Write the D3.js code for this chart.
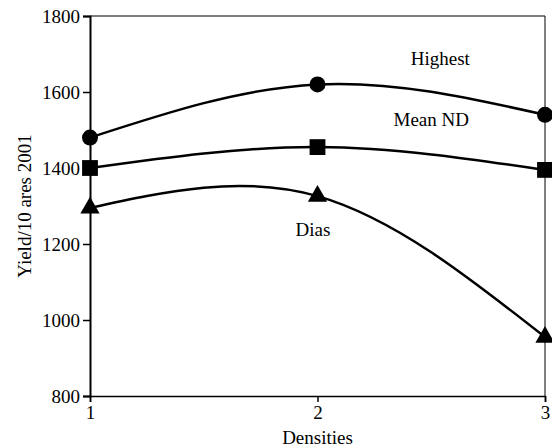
<!DOCTYPE html>
<html>
<head>
<meta charset="utf-8">
<script src="https://cdn.jsdelivr.net/npm/d3@7"></script>
<style>
  body { margin: 0; background: #fff; }
</style>
</head>
<body>
<div id="chart"></div>
<script>
const densities = [1, 2, 3];
const highest = [1480, 1620, 1540];
const meanND = [1400, 1455, 1395];
const dias = [1295, 1326, 955];
const yTicks = [800, 1000, 1200, 1400, 1600, 1800];

const series = [
  { name: "Highest", values: highest, shape: d3.symbolCircle, size: 200, lx: 2.54, ly: 1670 },
  { name: "Mean ND", values: meanND, shape: d3.symbolSquare, size: 250, lx: 2.5, ly: 1510 },
  { name: "Dias", values: dias, shape: d3.symbolTriangle, size: 160, lx: 1.98, ly: 1222 }
];

const width = 552, height = 448;
const margin = { top: 16, right: 7, bottom: 52, left: 90 };
const font = "'Liberation Serif', 'Times New Roman', serif";
const fs = 19;

const svg = d3.select("#chart").append("svg")
  .attr("width", width)
  .attr("height", height);

const x = d3.scaleLinear().domain([1, 3]).range([margin.left, width - margin.right]);
const y = d3.scaleLinear().domain([800, 1800]).range([height - margin.bottom, margin.top]);

// frame top + right (thin)
svg.append("path")
  .attr("d", `M${x(1)},${y(1800)}H${x(3)}V${y(800)}`)
  .attr("fill", "none")
  .attr("stroke", "#000")
  .attr("stroke-width", 1);

// y axis
const yAxis = svg.append("g")
  .attr("transform", `translate(${x(1)},0)`)
  .call(d3.axisLeft(y).tickValues(yTicks).tickSize(7).tickPadding(3).tickFormat(d3.format("d")));
yAxis.attr("font-family", font).attr("font-size", fs);
yAxis.select(".domain").attr("stroke-width", 2);
yAxis.selectAll(".tick line").attr("stroke-width", 1.5);

// x axis
const xAxis = svg.append("g")
  .attr("transform", `translate(0,${y(800)})`)
  .call(d3.axisBottom(x).tickValues(densities).tickSize(6).tickPadding(4).tickFormat(d3.format("d")));
xAxis.attr("font-family", font).attr("font-size", fs);
xAxis.select(".domain").attr("stroke-width", 1.5);
xAxis.selectAll(".tick line").attr("stroke-width", 1.5);

// axis titles
svg.append("text")
  .attr("transform", `translate(31,${(y(800) + y(1800)) / 2}) rotate(-90)`)
  .attr("text-anchor", "middle")
  .attr("font-family", font)
  .attr("font-size", fs)
  .text("Yield/10 ares 2001");

svg.append("text")
  .attr("x", x(2))
  .attr("y", 444)
  .attr("text-anchor", "middle")
  .attr("font-family", font)
  .attr("font-size", fs)
  .text("Densities");

const line = d3.line()
  .x((d, i) => x(densities[i]))
  .y(d => y(d))
  .curve(d3.curveNatural);

series.forEach(s => {
  svg.append("path")
    .datum(s.values)
    .attr("fill", "none")
    .attr("stroke", "#000")
    .attr("stroke-width", 2.5)
    .attr("d", line);

  svg.selectAll(null)
    .data(s.values)
    .enter().append("path")
    .attr("transform", (d, i) => `translate(${x(densities[i])},${y(d)})`)
    .attr("d", d3.symbol().type(s.shape).size(s.size))
    .attr("fill", "#000");

  svg.append("text")
    .attr("x", x(s.lx))
    .attr("y", y(s.ly))
    .attr("text-anchor", "middle")
    .attr("font-family", font)
    .attr("font-size", fs)
    .text(s.name);
});
</script>
</body>
</html>
